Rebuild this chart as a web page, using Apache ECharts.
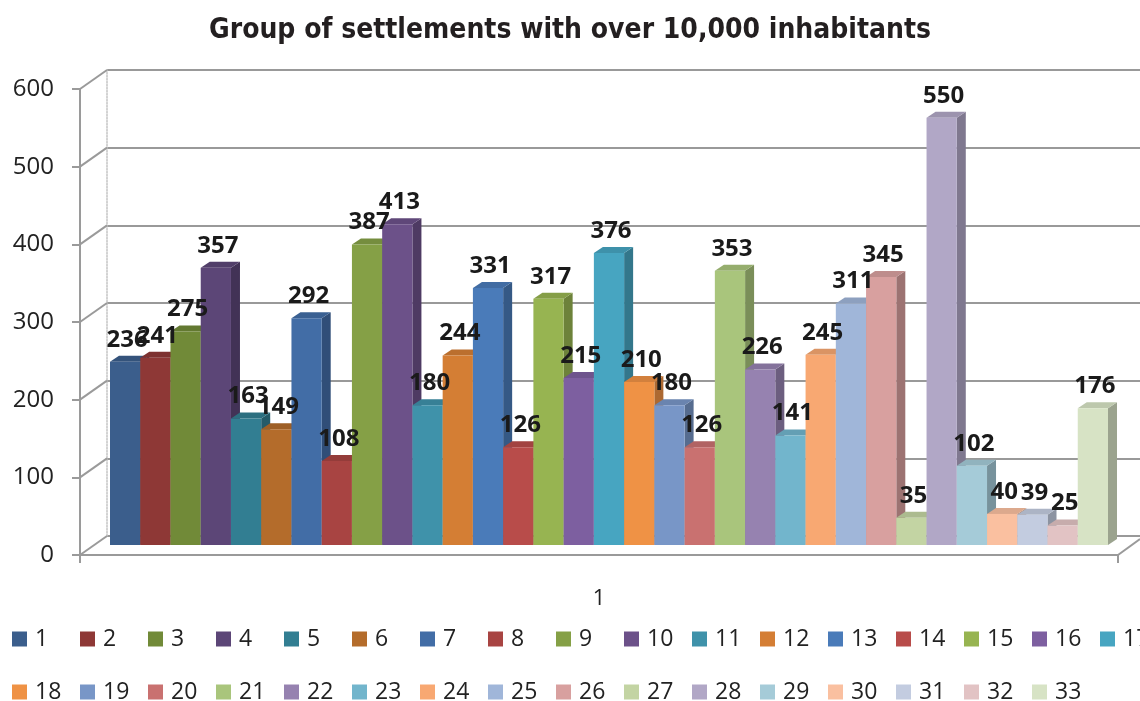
<!DOCTYPE html>
<html>
<head>
<meta charset="utf-8">
<script src="https://cdn.jsdelivr.net/npm/echarts@6/dist/echarts.min.js"></script>
<style>html,body{margin:0;padding:0;background:#fff}#c{width:1140px;height:701px}</style>
</head>
<body>
<div id="c"></div>
<script>
const titleText = 'Group of settlements with over 10,000 inhabitants';
const categories = ['1'];
const seriesNames = ['1','2','3','4','5','6','7','8','9','10','11','12','13','14','15','16','17','18','19','20','21','22','23','24','25','26','27','28','29','30','31','32','33'];
const values = [236,241,275,357,163,149,292,108,387,413,180,244,331,126,317,215,376,210,180,126,353,226,141,245,311,345,35,550,102,40,39,25,176];
const yMin = 0, yMax = 600, yStep = 100;

const colors = ['#3B5E8C','#8E3836','#718A38','#5C4677','#327E92','#B46C2B','#426DA6','#A84442','#85A046','#6C5189','#3F92AA','#D47E34','#4A7BB9','#B84C4A','#97B451','#7D5FA0','#47A5C1','#EF9245','#7896C7','#C97170','#A9C57C','#9682B0','#72B5CC','#F8A872','#A0B6D9','#D8A09F','#C3D4A3','#B1A7C6','#A5CBD8','#FAC0A0','#C3CCE0','#E2C3C4','#D7E3C5'];

const N = values.length;
const DX = 9, DY = 6;

function shade(hex, f) {
  const n = parseInt(hex.slice(1), 16);
  let r = (n >> 16) & 255, g = (n >> 8) & 255, b = n & 255;
  if (f < 0) { r = r * (1 + f); g = g * (1 + f); b = b * (1 + f); }
  else { r = r + (255 - r) * f; g = g + (255 - g) * f; b = b + (255 - b) * f; }
  return 'rgb(' + Math.round(r) + ',' + Math.round(g) + ',' + Math.round(b) + ')';
}

function barRenderer(idx) {
  return function (params, api) {
    const v = api.value(1);
    const top = api.coord([0, v]);
    const base = api.coord([0, 0]);
    const bw = api.size([1, 0])[0];
    const w = bw / N;
    const x0 = top[0] - bw / 2 + idx * w;
    const c = colors[idx];
    return {
      type: 'group',
      children: [
        { type: 'polygon', shape: { points: [[x0 + w, top[1]], [x0 + w + DX, top[1] - DY], [x0 + w + DX, base[1] - DY], [x0 + w, base[1]]] }, style: { fill: shade(c, -0.28) } },
        { type: 'polygon', shape: { points: [[x0, top[1]], [x0 + DX, top[1] - DY], [x0 + w + DX, top[1] - DY], [x0 + w, top[1]]] }, style: { fill: shade(c, -0.12) } },
        { type: 'rect', shape: { x: x0, y: top[1], width: w, height: base[1] - top[1] }, style: { fill: c } }
      ]
    };
  };
}

function labelRenderer(params, api) {
  const idx = api.value(2);
  const v = api.value(1);
  const top = api.coord([0, v]);
  const bw = api.size([1, 0])[0];
  const w = bw / N;
  const cx = top[0] - bw / 2 + idx * w + w / 2 + 2;
  return {
    type: 'text',
    style: {
      text: String(v), x: cx, y: top[1] - 10,
      align: 'center', verticalAlign: 'bottom',
      font: 'bold 24px "Open Sans"', fill: '#1a1a1a'
    }
  };
}

const series = seriesNames.map((name, i) => ({
  name: name,
  type: 'custom',
  xAxisIndex: 0, yAxisIndex: 0,
  z: 2,
  color: colors[i],
  itemStyle: { color: colors[i] },
  renderItem: barRenderer(i),
  encode: { x: 0, y: 1 },
  data: [[0, values[i]]]
}));
series.push({
  name: 'labels',
  type: 'custom',
  xAxisIndex: 0, yAxisIndex: 0,
  z: 10, silent: true,
  renderItem: labelRenderer,
  encode: { x: 0, y: 1 },
  data: values.map((v, i) => [0, v, i])
});

const legendCommon = {
  left: 12, padding: 0, orient: 'horizontal', icon: 'rect',
  itemWidth: 15, itemHeight: 15, itemGap: 14,
  textStyle: { fontFamily: 'Open Sans', fontSize: 23, color: '#222', width: 31, padding: [0, 0, 0, 3], lineHeight: 24 },
  width: 3000, selectedMode: false
};

const chart = echarts.init(document.getElementById('c'), null, { renderer: 'canvas' });
chart.setOption({
  animation: false,
  backgroundColor: '#fff',
  title: {
    text: titleText, left: 'center', top: 17, padding: 0,
    textStyle: { fontFamily: '"DejaVu Sans Condensed", "Liberation Sans Narrow", sans-serif', fontWeight: 'bold', fontSize: 28, color: '#231f20' }
  },
  legend: [
    Object.assign({}, legendCommon, { top: 627, data: seriesNames.slice(0, 17) }),
    Object.assign({}, legendCommon, { top: 680, data: seriesNames.slice(17) })
  ],
  grid: [
    { left: 110, right: 32, top: 79, bottom: 156 },
    { left: 80, right: 22, top: 89, bottom: 146 },
    { left: 107, right: 0, top: 70, bottom: 165 }
  ],
  xAxis: [
    { type: 'category', gridIndex: 0, data: categories, show: false },
    {
      type: 'category', gridIndex: 1, data: categories,
      axisLine: { lineStyle: { color: '#9a9a9a', width: 2 } },
      axisTick: { show: true, length: 8, lineStyle: { color: '#9a9a9a', width: 2 } },
      axisLabel: { margin: 33, fontFamily: 'Open Sans', fontSize: 22, color: '#222' }
    },
    { type: 'category', gridIndex: 2, data: categories, show: false }
  ],
  yAxis: [
    { type: 'value', gridIndex: 0, min: yMin, max: yMax, interval: yStep, show: false },
    {
      type: 'value', gridIndex: 1, min: yMin, max: yMax, interval: yStep,
      axisLine: { show: true, lineStyle: { color: '#9a9a9a', width: 2 } },
      axisTick: { show: true, length: 8, lineStyle: { color: '#9a9a9a', width: 2 } },
      axisLabel: { margin: 26, fontFamily: 'Open Sans', fontSize: 24, color: '#222' },
      splitLine: { show: false }
    },
    {
      type: 'value', gridIndex: 2, min: yMin, max: yMax, interval: yStep,
      axisLine: { show: true, lineStyle: { color: '#c4c4c4', width: 1.5, type: 'dotted' } },
      axisTick: { show: false }, axisLabel: { show: false },
      splitLine: { show: true, lineStyle: { color: '#999', width: 2 } }
    }
  ],
  series: series
});

// decorative 3D connectors between front axis and back wall
const ticks = [];
for (let v = yMin; v <= yMax; v += yStep) ticks.push(v);
const r1 = chart.getModel().getComponent('grid', 1).coordinateSystem.getRect();
const r2 = chart.getModel().getComponent('grid', 2).coordinateSystem.getRect();
const gfx = [];
ticks.forEach(v => {
  const f = chart.convertToPixel({ xAxisIndex: 1, yAxisIndex: 1 }, [0, v]);
  const b = chart.convertToPixel({ xAxisIndex: 2, yAxisIndex: 2 }, [0, v]);
  gfx.push({ type: 'line', shape: { x1: r1.x, y1: f[1], x2: r2.x, y2: b[1] }, style: { stroke: '#9a9a9a', lineWidth: 2 }, z: 1 });
});
gfx.push({ type: 'line', shape: { x1: r1.x + r1.width, y1: r1.y + r1.height, x2: 1140, y2: r2.y + r2.height + 3 }, style: { stroke: '#9a9a9a', lineWidth: 2 }, z: 1 });
chart.setOption({ graphic: gfx });
</script>
</body>
</html>
